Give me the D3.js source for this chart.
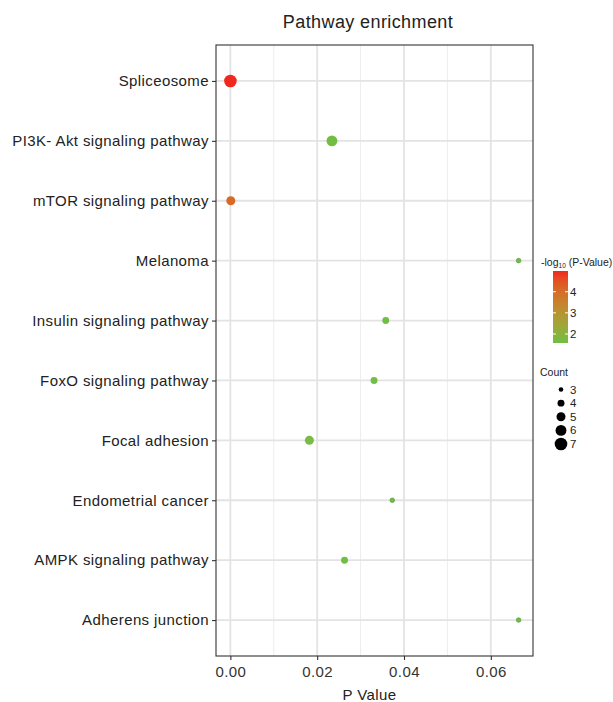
<!DOCTYPE html>
<html><head><meta charset="utf-8">
<script src="https://cdn.jsdelivr.net/npm/d3@7"></script>
<style>body{margin:0;background:#fff}svg{display:block;font-family:"Liberation Sans",Arial,Helvetica,sans-serif}</style>
</head><body><svg id="c" width="613" height="702"></svg>
<script>
const pathways = ["Spliceosome","PI3K- Akt signaling pathway","mTOR signaling pathway","Melanoma","Insulin signaling pathway","FoxO signaling pathway","Focal adhesion","Endometrial cancer","AMPK signaling pathway","Adherens junction"];
const pValues = [0.00001,0.0234,0.0001,0.0664,0.0358,0.0331,0.0182,0.0373,0.0263,0.0664];
const logP = [4.98,1.63,4.05,1.575,1.60,1.61,1.72,1.58,1.62,1.575];
const counts = [7,6,5,3,4,4,5,3,4,3];
const xTicks = [0,0.02,0.04,0.06];
const xMinor = [0.01,0.03,0.05];
const colorTicks = [2,3,4];
const countLevels = [3,4,5,6,7];

const svg = d3.select("#c");
const L=216,R=533,T=45,B=656;
const ext = d3.extent(pValues), pad=(ext[1]-ext[0])*0.05;
const x = d3.scaleLinear().domain([ext[0]-pad, ext[1]+pad]).range([L,R]);
const y = d3.scalePoint().domain(pathways).range([T,B]).padding(0.6);
const cExt = d3.extent(logP);
const color = d3.scaleLinear().domain(cExt).range(["#6fbf45","#f0281f"]).interpolate(d3.interpolateLab);
const rScale = d3.scaleSqrt().domain([3,7]).range([0,1]);
const r = c => 2.3 + 4.0*rScale(c);

// grid
const g = svg.append("g");
g.selectAll(".mi").data(xMinor).join("line").attr("x1",d=>x(d)).attr("x2",d=>x(d)).attr("y1",T).attr("y2",B).attr("stroke","#ebebeb").attr("stroke-width",0.9);
g.selectAll(".ma").data(xTicks).join("line").attr("x1",d=>x(d)).attr("x2",d=>x(d)).attr("y1",T).attr("y2",B).attr("stroke","#e3e3e3").attr("stroke-width",1.8);
g.selectAll(".hy").data(pathways).join("line").attr("x1",L).attr("x2",R).attr("y1",d=>y(d)).attr("y2",d=>y(d)).attr("stroke","#e3e3e3").attr("stroke-width",1.8);

// points
svg.append("g").selectAll("circle").data(pathways).join("circle")
  .attr("cx",(d,i)=>x(pValues[i])).attr("cy",d=>y(d)).attr("r",(d,i)=>r(counts[i]))
  .attr("fill",(d,i)=>color(logP[i]))
  .attr("stroke",(d,i)=>counts[i]<=3?d3.color(color(logP[i])).darker(0.8):"none").attr("stroke-width",0.6);

// border
svg.append("rect").attr("x",L).attr("y",T).attr("width",R-L).attr("height",B-T).attr("fill","none").attr("stroke","#333").attr("stroke-width",1.1);

// axes
const ya = svg.append("g").attr("transform",`translate(${L},0)`).call(d3.axisLeft(y).tickSize(4).tickPadding(3));
ya.select(".domain").remove();
ya.selectAll("line").attr("stroke","#333").attr("stroke-width",1.1);
ya.selectAll("text").attr("font-size",15).attr("letter-spacing",0.4).attr("fill","#222").attr("font-family","Liberation Sans, Arial");
const xa = svg.append("g").attr("transform",`translate(0,${B})`).call(d3.axisBottom(x).tickValues(xTicks).tickFormat(d3.format(".2f")).tickSize(4).tickPadding(6));
xa.select(".domain").remove();
xa.selectAll("line").attr("stroke","#333").attr("stroke-width",1.1);
xa.selectAll("text").attr("font-size",15).attr("letter-spacing",0.4).attr("fill","#333").attr("font-family","Liberation Sans, Arial");

svg.append("text").attr("x",(L+R)/2-5).attr("y",700).attr("text-anchor","middle").attr("font-size",15).attr("letter-spacing",0.4).attr("fill","#222").text("P Value");
svg.append("text").attr("x",368).attr("y",28).attr("text-anchor","middle").attr("font-size",18).attr("letter-spacing",0.4).attr("fill","#222").text("Pathway enrichment");

// colour legend
const lx=553, ly0=271, ly1=343, lw=15;
const defs = svg.append("defs");
const grad = defs.append("linearGradient").attr("id","gr").attr("x1",0).attr("y1",1).attr("x2",0).attr("y2",0);
d3.range(0,1.0001,0.1).forEach(t=>grad.append("stop").attr("offset",t).attr("stop-color",color(cExt[0]+t*(cExt[1]-cExt[0]))));
const lt = svg.append("text").attr("x",541).attr("y",266).attr("font-size",10.5).attr("fill","#222");
lt.append("tspan").text("-log");
lt.append("tspan").attr("font-size",6.5).attr("dy",2).text("10");
lt.append("tspan").attr("dy",-2).text(" (P-Value)");
svg.append("rect").attr("x",lx).attr("y",ly0).attr("width",lw).attr("height",ly1-ly0).attr("fill","url(#gr)");
const cy = d3.scaleLinear().domain(cExt).range([ly1,ly0]);
svg.append("g").selectAll("line").data(colorTicks).join("line").attr("x1",lx).attr("x2",lx+3).attr("y1",d=>cy(d)).attr("y2",d=>cy(d)).attr("stroke","#fff").attr("stroke-width",1);
svg.append("g").selectAll("line").data(colorTicks).join("line").attr("x1",lx+lw-3).attr("x2",lx+lw).attr("y1",d=>cy(d)).attr("y2",d=>cy(d)).attr("stroke","#fff").attr("stroke-width",1);
svg.append("g").selectAll("text").data(colorTicks).join("text").attr("x",lx+lw+2).attr("y",d=>cy(d)+4).attr("font-size",11.5).attr("fill","#222").text(d=>d);

// size legend
svg.append("text").attr("x",540).attr("y",376).attr("font-size",10.5).attr("fill","#222").text("Count");
const sy = d3.scalePoint().domain(countLevels).range([389.5,444]);
svg.append("g").selectAll("circle").data(countLevels).join("circle").attr("cx",561).attr("cy",d=>sy(d)).attr("r",d=>r(d)).attr("fill","#000");
svg.append("g").selectAll("text").data(countLevels).join("text").attr("x",570).attr("y",d=>sy(d)+4).attr("font-size",11.5).attr("fill","#222").text(d=>d);
</script></body></html>
